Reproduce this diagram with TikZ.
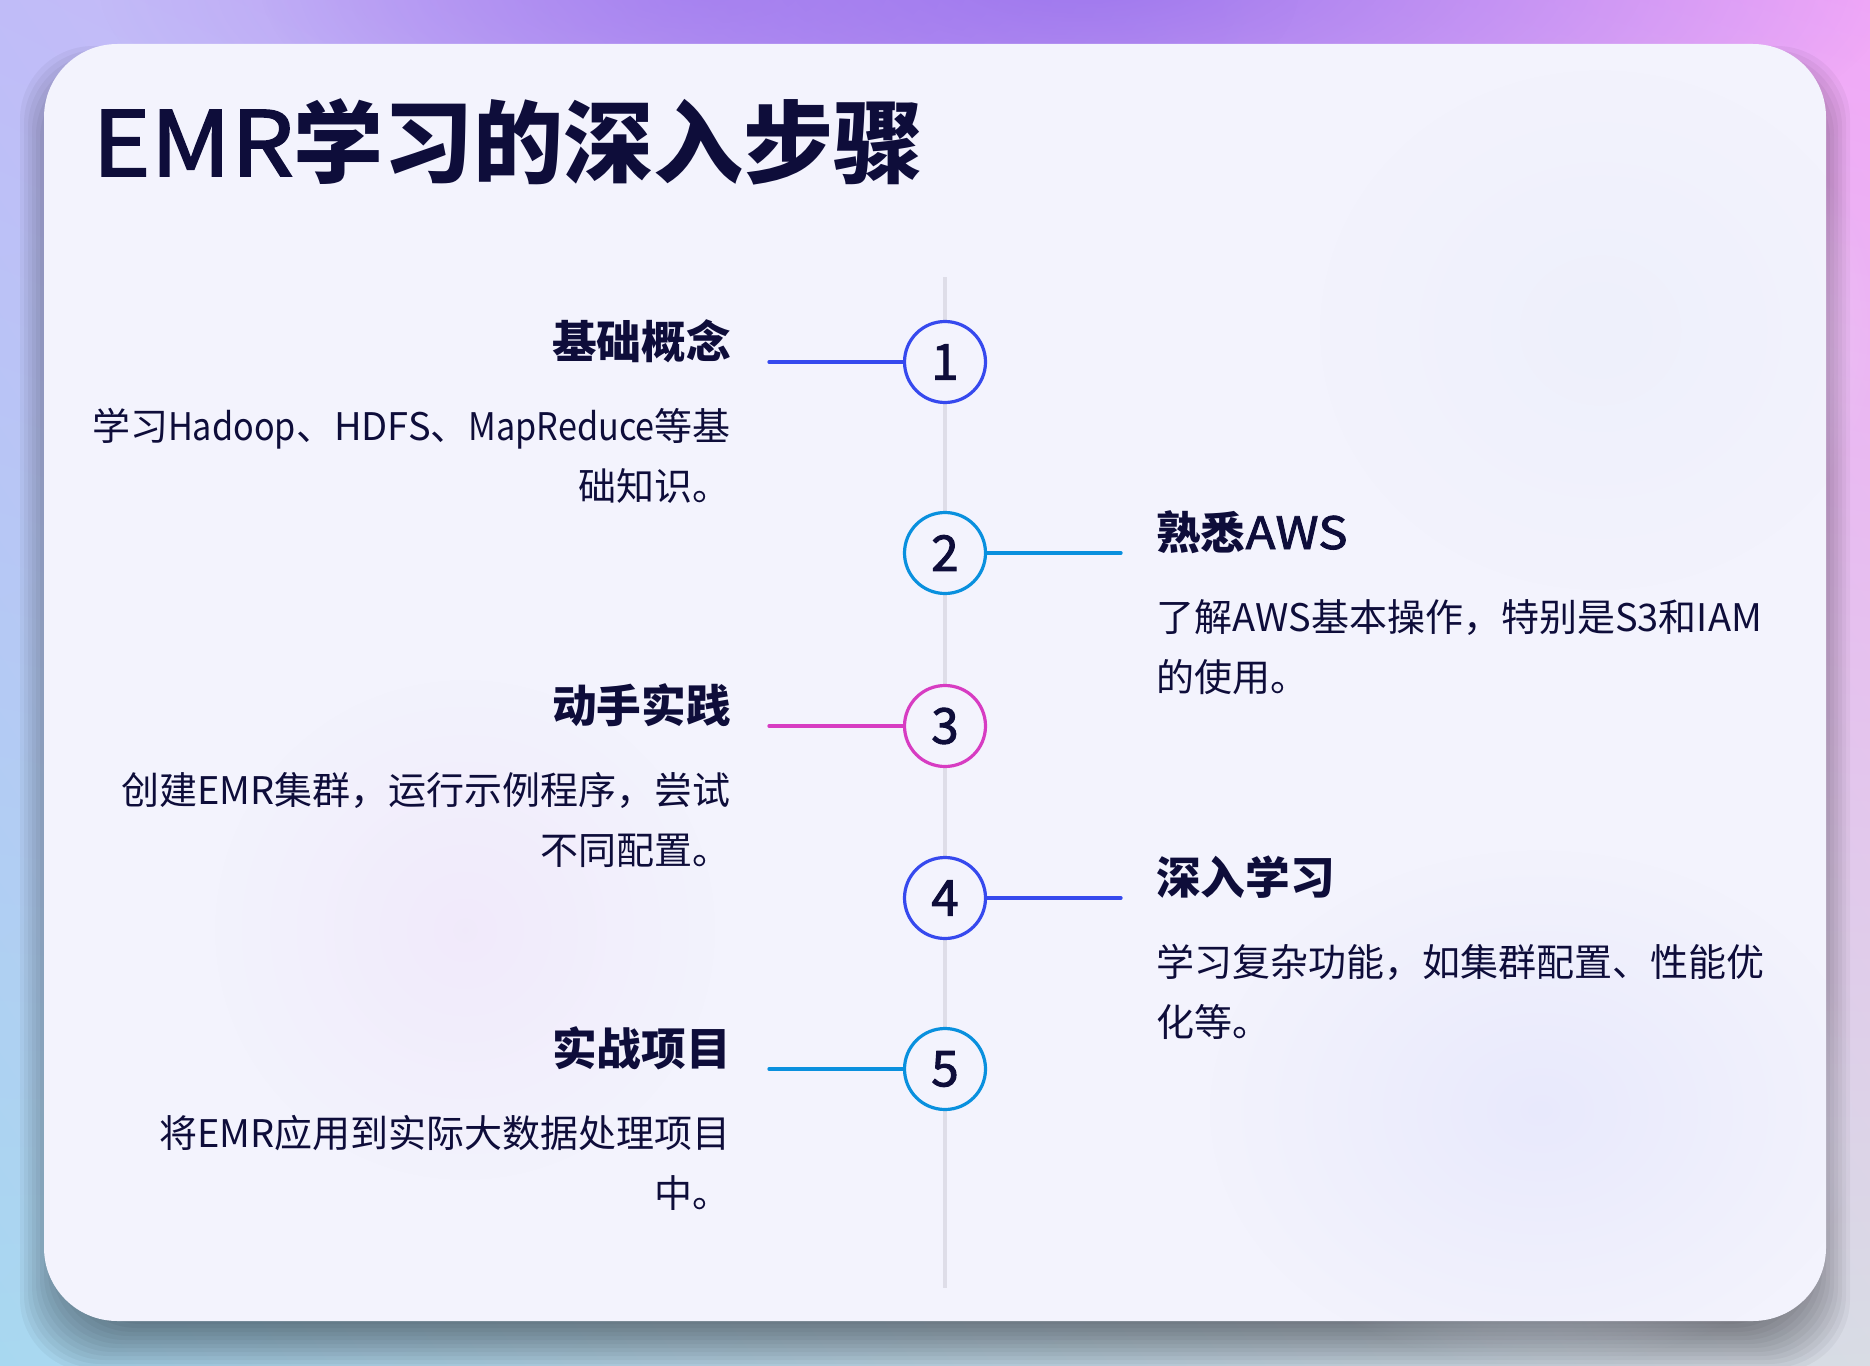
\documentclass[tikz,border=0pt]{standalone}
\usepackage{fontspec}
\setmainfont{Noto Sans CJK SC}
\newfontfamily\medf{Noto Sans CJK SC}[FakeBold=2]
\newfontfamily\widef{Noto Sans CJK SC}[FakeBold=2, FakeStretch=1.1]
\newfontfamily\latn{Noto Sans CJK SC}[FakeStretch=0.9]
\usetikzlibrary{fadings,shadings}
\tikzfading[name=radfade, inner color=transparent!0, outer color=transparent!100]
\definecolor{ink}{HTML}{0E0D3A}
\definecolor{card}{HTML}{F3F3FD}
\definecolor{cblue}{HTML}{3649EE}
\definecolor{csky}{HTML}{0990DE}
\definecolor{cmag}{HTML}{D73CC2}
\definecolor{tline}{HTML}{DEDDE8}
\definecolor{bgTL}{HTML}{C0BCF8}
\definecolor{bgTR}{HTML}{F2A8F8}
\definecolor{bgBL}{HTML}{A8D8F0}
\definecolor{bgBR}{HTML}{D8DCE4}
\definecolor{bgPur}{HTML}{9C76EE}
\definecolor{blobPink}{HTML}{F0E6FA}
\definecolor{blobBlue}{HTML}{E6E7FC}
\definecolor{blobSky}{HTML}{ECEFFB}
\begin{document}
\begin{tikzpicture}[x=0.75pt,y=-0.75pt,
  head/.style={font=\fontsize{33.5pt}{40pt}\selectfont\bfseries, text=ink, inner sep=0pt},
  desc/.style={font=\fontsize{28.5pt}{34pt}\selectfont, text=ink, inner sep=0pt},
  stepcirc/.style={circle, draw=#1, line width=2.4pt, fill=card, minimum size=60.75pt, inner sep=0pt,
     font=\fontsize{37pt}{40pt}\medf\mdseries, text=ink},
  conn/.style={draw=#1, line width=2.5pt, line cap=round}]
\useasboundingbox (0,0) rectangle (1870,1366);
% background
\shade[upper left=bgTL, upper right=bgTR, lower left=bgBL, lower right=bgBR] (0,0) rectangle (1870,1366);
\fill[bgPur, path fading=radfade, fit fading=true, opacity=0.95] (1080,-20) ellipse [x radius=820, y radius=260];
\fill[bgPur, path fading=radfade, fit fading=true, opacity=0.6] (700,-10) ellipse [x radius=600, y radius=200];
% shadow
\foreach \k in {-24,-20,...,24}{
  \fill[black, opacity=0.04, rounded corners=55] (44+\k,70+\k) rectangle (1826-\k,1348-\k);
}
% card
\fill[card, rounded corners=55] (44,44) rectangle (1826,1321);
\fill[blobPink, path fading=radfade, fit fading=true, opacity=0.7] (465,930) circle (250);
\fill[blobBlue, path fading=radfade, fit fading=true, opacity=0.8] (1540,1110) ellipse [x radius=330, y radius=260];
\fill[blobSky, path fading=radfade, fit fading=true, opacity=0.7] (1600,330) ellipse [x radius=280, y radius=260];
% title
\node[anchor=base west, inner sep=0pt, text=ink, font=\fontsize{67.5pt}{70pt}\selectfont\bfseries] (title) at (92,176) {{\widef\mdseries EMR}学习的深入步骤};
% timeline
\coordinate (ttop) at (945,277);
\coordinate (tbot) at (945,1288);
\draw[tline, line width=2.6pt] (ttop) -- (tbot);
% circles
\node[stepcirc=cblue] (c1) at (945,362) {1};
\node[stepcirc=csky]  (c2) at (945,553) {2};
\node[stepcirc=cmag]  (c3) at (945,726) {3};
\node[stepcirc=cblue] (c4) at (945,898) {4};
\node[stepcirc=csky]  (c5) at (945,1069) {5};
% connectors
\coordinate (e1) at (769,362);
\coordinate (e2) at (1121,553);
\coordinate (e3) at (769,726);
\coordinate (e4) at (1121,898);
\coordinate (e5) at (769,1069);
\draw[conn=cblue] (e1) -- (c1.west);
\draw[conn=csky]  (c2.east) -- (e2);
\draw[conn=cmag]  (e3) -- (c3.west);
\draw[conn=cblue] (c4.east) -- (e4);
\draw[conn=csky]  (e5) -- (c5.west);
% step 1
\node[head, anchor=base east] (h1) at (731,358) {基础概念};
\node[desc, anchor=base east] (d1a) at (731,440) {学习{\latn Hadoop}、HDFS、{\latn MapReduce}等基};
\node[desc, anchor=base east] (d1b) at (731,500) {础知识。};
% step 2
\node[head, anchor=base west] (h2) at (1156,549) {熟悉{\widef\mdseries AWS}};
\node[desc, anchor=base west] (d2a) at (1156,631) {了解AWS基本操作，特别是S3和IAM};
\node[desc, anchor=base west] (d2b) at (1156,691) {的使用。};
% step 3
\node[head, anchor=base east] (h3) at (731,722) {动手实践};
\node[desc, anchor=base east] (d3a) at (731,804) {创建EMR集群，运行示例程序，尝试};
\node[desc, anchor=base east] (d3b) at (731,864) {不同配置。};
% step 4
\node[head, anchor=base west] (h4) at (1156,894) {深入学习};
\node[desc, anchor=base west] (d4a) at (1156,976) {学习复杂功能，如集群配置、性能优};
\node[desc, anchor=base west] (d4b) at (1156,1036) {化等。};
% step 5
\node[head, anchor=base east] (h5) at (731,1065) {实战项目};
\node[desc, anchor=base east] (d5a) at (731,1147) {将EMR应用到实际大数据处理项目};
\node[desc, anchor=base east] (d5b) at (731,1207) {中。};
\end{tikzpicture}
\end{document}
